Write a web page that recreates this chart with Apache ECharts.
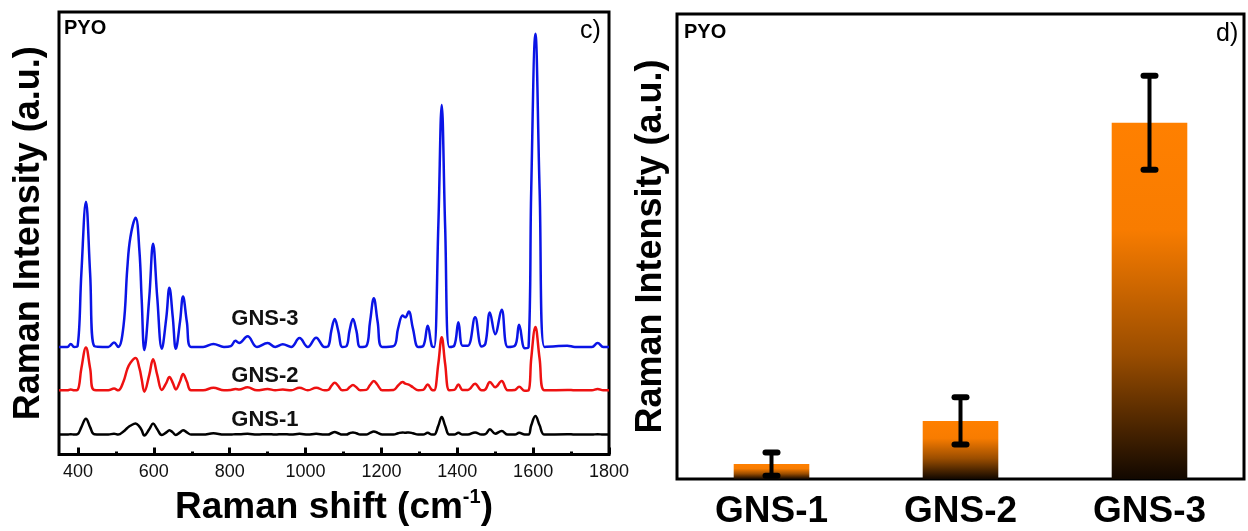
<!DOCTYPE html>
<html>
<head>
<meta charset="utf-8">
<script src="https://cdn.jsdelivr.net/npm/echarts@6/dist/echarts.min.js"></script>
<style>
  html, body { margin: 0; padding: 0; background: #fff; }
  #chart { width: 1248px; height: 531px; }
</style>
</head>
<body>
<div id="chart"></div>
<script>
// Raman shift sample points (cm-1), read off panel c)
const shifts = [
  350, 372, 381, 390, 399, 409, 421, 432, 443, 480,
  495, 506, 520, 530, 538, 552, 562, 568, 575, 588,
  598, 609, 621, 633, 641, 650, 658, 669, 677, 687,
  698, 730, 757, 785, 803, 815, 825, 847, 872, 900,
  920, 940, 962, 984, 1006, 1028, 1050, 1060, 1068, 1077,
  1086, 1097, 1108, 1116, 1125, 1134, 1144, 1160, 1170, 1180,
  1190, 1202, 1232, 1244, 1256, 1263, 1272, 1283, 1297, 1310,
  1322, 1333, 1339, 1350, 1359, 1368, 1379, 1392, 1403, 1414,
  1428, 1447, 1464, 1474, 1486, 1500, 1517, 1533, 1552, 1563,
  1578, 1588, 1595, 1606, 1617, 1630, 1690, 1710, 1755, 1770,
  1785, 1800
];
// intensities (a.u., stacked offsets included)
const gns3 = [
  243, 243, 250, 243, 245, 410, 571, 410, 245, 243,
  253, 243, 290, 420, 490, 535, 460, 350, 236, 355,
  476, 355, 239, 310, 377, 310, 239, 300, 357, 300,
  243, 243, 250, 243, 245, 257, 252, 267, 243, 252,
  243, 249, 243, 263, 243, 264, 243, 245, 280, 306,
  280, 243, 245, 280, 306, 280, 243, 245, 300, 353,
  300, 243, 245, 285, 314, 310, 323, 285, 243, 245,
  291, 245, 243, 515, 790, 515, 243, 246, 299, 246,
  246, 310, 244, 250, 321, 272, 327, 243, 246, 293,
  240, 243, 600, 951, 600, 243, 246, 243, 243, 252,
  243, 243
];
const gns2 = [
  145, 145, 147, 145, 146, 195, 242, 195, 146, 145,
  149, 145, 165, 193, 207, 218, 195, 170, 142, 180,
  215, 180, 146, 162, 175, 162, 147, 165, 182, 165,
  145, 145, 151, 145, 146, 148, 147, 152, 145, 148,
  145, 147, 145, 151, 145, 151, 145, 146, 155, 162,
  155, 145, 146, 152, 157, 152, 145, 146, 157, 166,
  157, 145, 146, 156, 164, 160, 158, 152, 145, 146,
  158, 146, 145, 205, 265, 205, 145, 146, 158, 146,
  146, 160, 145, 147, 164, 152, 166, 145, 146, 153,
  144, 145, 217, 288, 217, 145, 146, 145, 145, 148,
  145, 145
];
const gns1 = [
  45, 45, 46, 45, 46, 62, 81, 62, 46, 45,
  47, 45, 52, 60, 65, 70, 63, 55, 43, 57,
  70, 57, 44, 50, 55, 50, 44, 50, 55, 50,
  45, 45, 48, 45, 45, 46, 46, 47, 45, 46,
  45, 46, 45, 47, 45, 47, 45, 45, 48, 51,
  48, 45, 45, 48, 50, 48, 45, 45, 49, 52,
  49, 45, 45, 48, 50, 49, 50, 48, 45, 45,
  49, 45, 45, 65, 85, 65, 45, 45, 49, 45,
  45, 50, 45, 46, 57, 47, 53, 45, 45, 49,
  45, 45, 66, 87, 66, 45, 46, 45, 45, 46,
  45, 45
];
const xTicks = [400, 600, 800, 1000, 1200, 1400, 1600, 1800];
const xMinorTicks = [500, 700, 900, 1100, 1300, 1500, 1700];

// panel d)
const samples = ['GNS-1', 'GNS-2', 'GNS-3'];
const barValues = [3.2, 12.5, 76.6];
const barErrors = [2.5, 5.1, 10.1];

const FONT = 'Liberation Sans, Arial, sans-serif';

const pairs = arr => shifts.map((s, i) => [s, arr[i]]);

const chart = echarts.init(document.getElementById('chart'), null, { renderer: 'canvas' });

const lineSeries = (name, data, color, labelY) => ({
  name,
  type: 'line',
  xAxisIndex: 0,
  yAxisIndex: 0,
  data: pairs(data),
  smooth: 0.4,
  symbol: 'none',
  lineStyle: { color, width: 2.5 },
  z: 3,
  markPoint: {
    symbol: 'circle',
    symbolSize: 1,
    silent: true,
    itemStyle: { color: 'rgba(0,0,0,0)' },
    label: {
      show: true,
      position: 'inside',
      formatter: name,
      color: '#111',
      fontSize: 22,
      fontWeight: 'bold',
      fontFamily: FONT
    },
    data: [{ coord: [893, labelY] }]
  }
});

const option = {
  animation: false,
  backgroundColor: '#fff',
  grid: [
    { left: 59, top: 12, width: 550, height: 444, show: true, borderColor: '#000', borderWidth: 3 },
    { left: 677, top: 14, width: 567, height: 465, show: true, borderColor: '#000', borderWidth: 3 }
  ],
  xAxis: [
    {
      type: 'value', gridIndex: 0, min: 350, max: 1800,
      axisLine: { show: false },
      splitLine: { show: false },
      axisTick: { show: true, inside: true, length: 7, customValues: xTicks, lineStyle: { color: '#000', width: 3 } },
      axisLabel: { customValues: xTicks, formatter: v => String(v), color: '#111', fontSize: 18, fontFamily: FONT, margin: 9 },
      name: '{t|Raman shift (cm}{s|-1}{t|)}',
      nameLocation: 'middle',
      nameGap: 33,
      nameTextStyle: {
        rich: {
          t: { fontSize: 37, fontWeight: 'bold', fontFamily: FONT, color: '#000', lineHeight: 40 },
          s: { fontSize: 20, fontWeight: 'bold', fontFamily: FONT, color: '#000', lineHeight: 22, verticalAlign: 'top' }
        }
      }
    },
    {
      type: 'value', gridIndex: 0, min: 350, max: 1800, position: 'bottom',
      axisLine: { show: false },
      splitLine: { show: false },
      axisLabel: { show: false },
      axisTick: { show: true, inside: true, length: 3, customValues: xMinorTicks, lineStyle: { color: '#000', width: 3 } }
    },
    {
      type: 'category', gridIndex: 1, data: samples,
      axisLine: { show: false },
      axisTick: { show: false },
      axisLabel: { color: '#000', fontSize: 37, fontWeight: 'bold', fontFamily: FONT, margin: 14 }
    }
  ],
  yAxis: [
    {
      type: 'value', gridIndex: 0, min: 0, max: 1000,
      axisLine: { show: false }, axisTick: { show: false }, axisLabel: { show: false }, splitLine: { show: false },
      name: 'Raman Intensity (a.u.)',
      nameLocation: 'middle',
      nameGap: 12,
      nameTextStyle: { fontSize: 36, fontWeight: 'bold', fontFamily: FONT, color: '#000' }
    },
    {
      type: 'value', gridIndex: 1, min: 0, max: 100,
      axisLine: { show: false }, axisTick: { show: false }, axisLabel: { show: false }, splitLine: { show: false },
      name: 'Raman Intensity (a.u.)',
      nameLocation: 'middle',
      nameGap: 8,
      nameTextStyle: { fontSize: 36, fontWeight: 'bold', fontFamily: FONT, color: '#000' }
    }
  ],
  graphic: [
    { type: 'text', left: 64, top: 18, style: { text: 'PYO', fontSize: 20, fontWeight: 'bold', fontFamily: FONT, fill: '#000' } },
    { type: 'text', left: 580, top: 19, style: { text: 'c)', fontSize: 25, fontFamily: FONT, fill: '#000' } },
    { type: 'text', left: 684, top: 22, style: { text: 'PYO', fontSize: 20, fontWeight: 'bold', fontFamily: FONT, fill: '#000' } },
    { type: 'text', left: 1216, top: 22, style: { text: 'd)', fontSize: 25, fontFamily: FONT, fill: '#000' } }
  ],
  series: [
    lineSeries('GNS-1', gns1, '#000000', 77),
    lineSeries('GNS-2', gns2, '#ee1111', 178),
    lineSeries('GNS-3', gns3, '#0a14e6', 306),
    {
      name: 'intensity',
      type: 'bar',
      xAxisIndex: 2,
      yAxisIndex: 1,
      data: barValues,
      barWidth: '40%',
      itemStyle: {
        color: new echarts.graphic.LinearGradient(0, 0, 0, 1, [
          { offset: 0, color: '#ff8000' },
          { offset: 0.3, color: '#f87c00' },
          { offset: 0.65, color: '#9a4d00' },
          { offset: 1, color: '#120800' }
        ])
      }
    },
    {
      name: 'error',
      type: 'custom',
      xAxisIndex: 2,
      yAxisIndex: 1,
      z: 5,
      data: barValues.map((v, i) => [i, v, barErrors[i]]),
      renderItem(params, api) {
        const i = api.value(0);
        const v = api.value(1);
        const e = api.value(2);
        const top = api.coord([i, v + e]);
        const bot = api.coord([i, v - e]);
        const cw = 6;
        const cap = { stroke: '#000', lineWidth: 6, lineCap: 'round' };
        return {
          type: 'group',
          children: [
            { type: 'line', shape: { x1: top[0], y1: top[1], x2: bot[0], y2: bot[1] }, style: { stroke: '#000', lineWidth: 4 } },
            { type: 'line', shape: { x1: top[0] - cw, y1: top[1], x2: top[0] + cw, y2: top[1] }, style: cap },
            { type: 'line', shape: { x1: bot[0] - cw, y1: bot[1], x2: bot[0] + cw, y2: bot[1] }, style: cap }
          ]
        };
      }
    }
  ]
};

chart.setOption(option);
</script>
</body>
</html>
